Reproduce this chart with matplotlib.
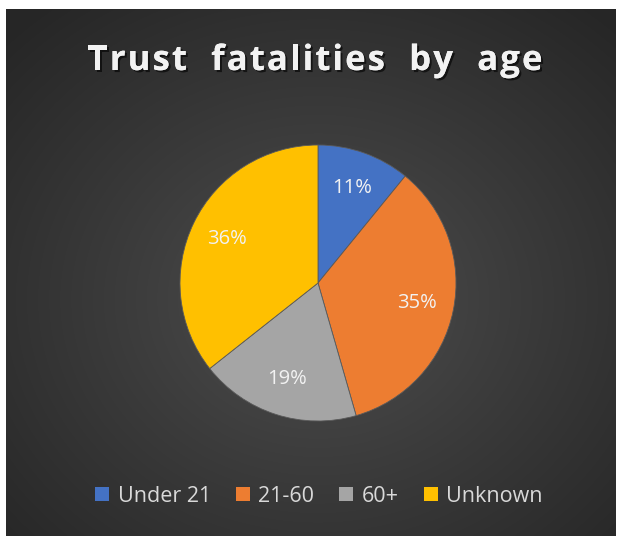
import matplotlib
matplotlib.use("Agg")
import matplotlib.pyplot as plt
import matplotlib.patheffects as pe
import numpy as np
from matplotlib.font_manager import FontProperties

# data
categories = ["Under 21", "21-60", "60+", "Unknown"]
percent = [11, 35, 19, 36]
colors = ["#4472C4", "#ED7D31", "#A5A5A5", "#FFC000"]
title = "Trust  fatalities  by  age"

W, H = 618, 536
fig = plt.figure(figsize=(W / 100, H / 100), dpi=100)
fig.patch.set_facecolor("white")

# background panel with radial gradient
bg = fig.add_axes([6 / W, 0, 610 / W, (H - 9) / H])
bg.set_axis_off()
ny, nx = 264, 305
yy, xx = np.mgrid[0:ny, 0:nx]
cx, cy = nx * 0.51, ny * 0.55
r = np.sqrt(((xx - cx) / nx) ** 2 + ((yy - cy) / ny) ** 2) / 0.72
r = np.clip(r, 0, 1)
lo, hi = 0x26 / 255, 0x50 / 255
val = hi - (hi - lo) * r ** 0.9
img = np.dstack([val, val, val])
bg.imshow(img, aspect="auto", extent=[0, 1, 0, 1], interpolation="bilinear")
bg.set_xlim(0, 1)
bg.set_ylim(0, 1)

renderer = fig.canvas.get_renderer()


def char_width(ch, fp):
    # advance of one character, measured between two reference glyphs
    w1 = renderer.get_text_width_height_descent("II", fp, ismath=False)[0]
    w2 = renderer.get_text_width_height_descent("I" + ch + "I", fp, ismath=False)[0]
    return w2 - w1


def spaced_text(s, xc, yc, target_w, fp, **kw):
    widths = [char_width(c, fp) for c in s]
    gap = (target_w - sum(widths)) / (len(s) - 1)
    x = xc - target_w / 2
    for c, w in zip(s, widths):
        if c != " ":
            fig.text(x / W, 1 - yc / H, c, ha="left", va="center",
                     fontproperties=fp, **kw)
        x += w + gap


# title
tfp = FontProperties(family="Open Sans", weight="bold", size=25)
spaced_text(title, 315, 61, 455, tfp, color="#f2f2f2",
            path_effects=[pe.withSimplePatchShadow(offset=(1.5, -1.5), shadow_rgbFace="black", alpha=0.6),
                          pe.Normal()])

# pie
cxp, cyp, rad = 318, 283, 138
ax = fig.add_axes([(cxp - rad) / W, (H - cyp - rad) / H, 2 * rad / W, 2 * rad / H])
wedges, _, autotexts = ax.pie(percent, colors=colors, startangle=90, counterclock=False,
                              autopct="%.0f%%", pctdistance=0.73,
                              wedgeprops=dict(edgecolor="#5a5a5a", linewidth=0.6),
                              textprops=dict(color="#f2f2f2", fontsize=14.5, family="Open Sans"))
ax.set_xlim(-1, 1)
ax.set_ylim(-1, 1)
ax.set_aspect("equal")

# legend
leg = fig.legend(wedges, categories, loc="center", bbox_to_anchor=(319 / W, 1 - 496 / H),
                 ncol=4, frameon=False, handlelength=0.65, handleheight=0.65,
                 handletextpad=0.4, columnspacing=1.15,
                 prop=dict(family="Open Sans", size=15.5))
for t in leg.get_texts():
    t.set_color("#d9d9d9")
for h in leg.legend_handles:
    h.set_edgecolor("none")

fig.savefig("out.png", dpi=100, facecolor=fig.get_facecolor())
